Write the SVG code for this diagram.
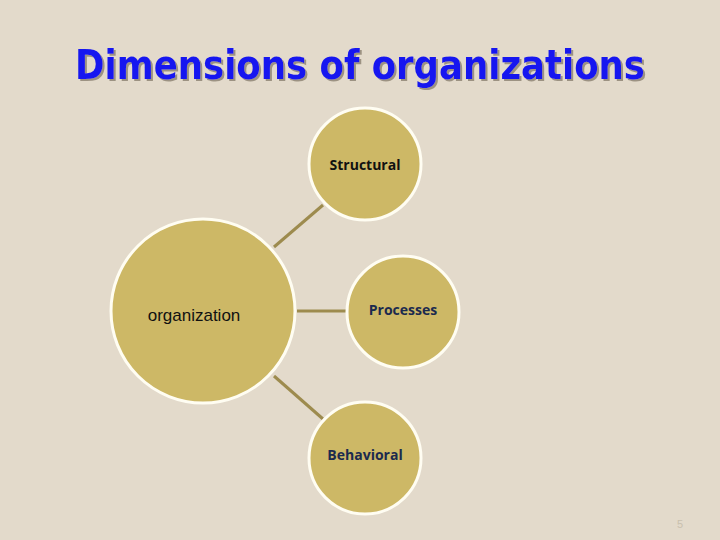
<svg xmlns="http://www.w3.org/2000/svg" width="720" height="540" viewBox="0 0 720 540">
<defs>
<style>
.node{fill:#cdb866;stroke:#fffdf2;stroke-width:3}
.conn{stroke:#9d8b4e;stroke-width:3;fill:none}
.lbl{font-family:"Open Sans","DejaVu Sans",sans-serif;font-weight:bold;font-size:14px;text-anchor:middle}
</style>
<filter id="shadow" filterUnits="userSpaceOnUse" x="0" y="20" width="720" height="90">
<feDropShadow dx="2" dy="2" stdDeviation="0.6" flood-color="#8a8070" flood-opacity="0.8"/>
</filter>
</defs>
<rect width="720" height="540" fill="#e3dacb"/>
<g id="title" filter="url(#shadow)">
<text x="360" y="79" font-family="'DejaVu Sans',Verdana,sans-serif" font-weight="bold" font-size="40" fill="#1414f0" text-anchor="middle" textLength="570" lengthAdjust="spacingAndGlyphs">Dimensions of organizations</text>
</g>
<g id="connectors">
<line class="conn" x1="274" y1="247" x2="323" y2="205"/>
<line class="conn" x1="297" y1="311" x2="347" y2="311"/>
<line class="conn" x1="274" y1="376" x2="323" y2="419"/>
</g>
<g id="organization">
<circle class="node" cx="203" cy="311" r="92"/>
<text x="194" y="321" font-family="'Liberation Sans',Arial,sans-serif" font-size="17" fill="#111" text-anchor="middle">organization</text>
</g>
<g id="structural">
<circle class="node" cx="365" cy="164" r="56"/>
<text class="lbl" x="365" y="170" fill="#111">Structural</text>
</g>
<g id="processes">
<circle class="node" cx="403" cy="312" r="56"/>
<text class="lbl" x="403" y="315" fill="#1b2a4e">Processes</text>
</g>
<g id="behavioral">
<circle class="node" cx="365" cy="458" r="56"/>
<text class="lbl" x="365" y="460" fill="#1b2a4e">Behavioral</text>
</g>
<text x="680" y="528" font-family="'Liberation Sans',Arial,sans-serif" font-size="11" fill="#c9c0ae" text-anchor="middle">5</text>
</svg>
